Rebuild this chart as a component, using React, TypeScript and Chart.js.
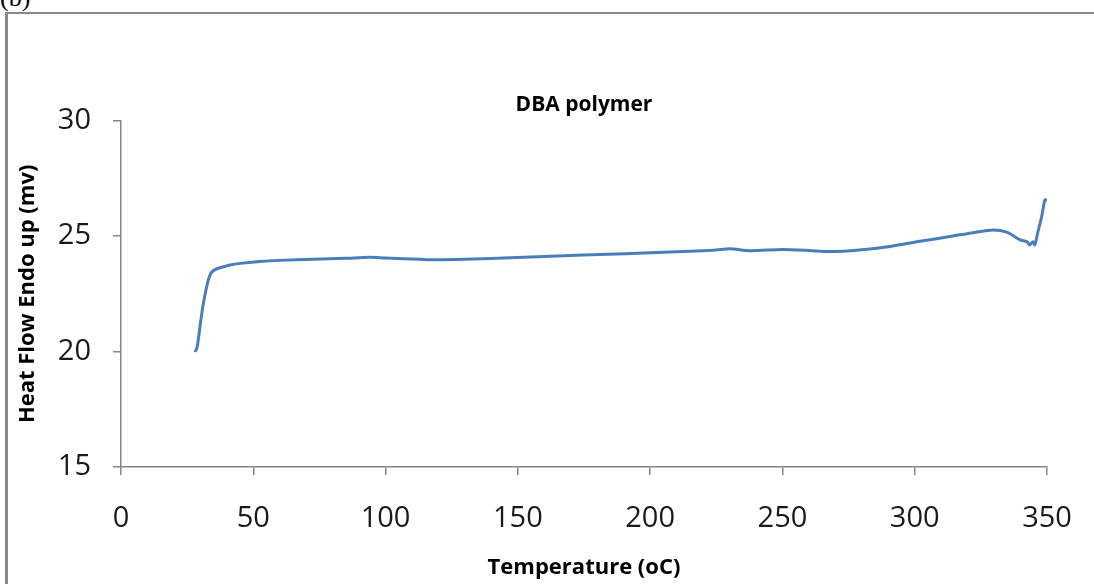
import React, { useEffect, useRef } from "react";
import { Chart, registerables } from "chart.js";

Chart.register(...registerables);

const temperature = [
  28.0, 28.8, 30.0, 31.0, 32.0, 33.0, 34.0, 35.5, 38, 41.2, 45, 52.5, 60, 72.6, 85, 94,
  100, 113, 118, 130, 149.6, 160, 174.6, 181, 200, 215, 225, 230, 237.7, 250, 260, 268,
  279, 290.6, 302, 313.3, 322, 329.6, 334.8, 339.8, 342.4, 343.5, 344.7, 345.4, 346.6,
  348, 349.2, 350,
];
const heatFlow = [
  19.98, 20.2, 21.2, 22.0, 22.6, 23.1, 23.4, 23.55, 23.65, 23.75, 23.82, 23.9, 23.95, 24.0,
  24.04, 24.08, 24.05, 24.0, 23.98, 24.0, 24.07, 24.12, 24.18, 24.2, 24.28, 24.35, 24.4,
  24.45, 24.37, 24.42, 24.38, 24.33, 24.4, 24.55, 24.78, 24.98, 25.15, 25.27, 25.17, 24.84,
  24.76, 24.62, 24.76, 24.62, 25.2, 25.85, 26.57, 26.57,
];
const xTicks = [0, 50, 100, 150, 200, 250, 300, 350];
const yTicks = [15, 20, 25, 30];

const chartTitle = "DBA polymer";
const xTitle = "Temperature (oC)";
const yTitle = "Heat Flow Endo up (mv)";

const FONT = "'Open Sans', 'Noto Sans', sans-serif";
const AXIS_GRAY = "#868686";

export default function App() {
  const ref = useRef<HTMLCanvasElement | null>(null);

  useEffect(() => {
    if (!ref.current) return;
    const points = temperature.map((t, i) => ({ x: t, y: heatFlow[i] }));
    const chart = new Chart(ref.current, {
      type: "line",
      data: {
        datasets: [
          {
            data: points,
            borderColor: "#4a7ebb",
            borderWidth: 3,
            pointRadius: 0,
            tension: 0.25,
            fill: false,
          },
        ],
      },
      options: {
        animation: false,
        responsive: false,
        events: [],
        layout: { padding: { top: 0, right: 47, left: 0, bottom: 0 } },
        plugins: {
          legend: { display: false },
          tooltip: { enabled: false },
          title: {
            display: true,
            text: chartTitle,
            fullSize: false,
            color: "#000",
            font: { family: FONT, size: 21, weight: "bold" },
            padding: { top: 92, bottom: 3.5 },
          },
        },
        scales: {
          x: {
            type: "linear",
            min: xTicks[0],
            max: xTicks[xTicks.length - 1],
            afterBuildTicks: (s: any) => {
              s.ticks = xTicks.map((v) => ({ value: v }));
            },
            afterFit: (s: any) => {
              s.height = 117;
              s.paddingLeft = 0;
              s.paddingRight = 0;
            },
            grid: {
              display: true,
              drawOnChartArea: false,
              drawTicks: true,
              tickLength: 8,
              color: AXIS_GRAY,
              lineWidth: 1.5,
            },
            border: { display: true, color: AXIS_GRAY, width: 1.5 },
            ticks: {
              color: "#1a1a1a",
              font: { family: FONT, size: 29 },
              padding: 26,
              maxRotation: 0,
              autoSkip: false,
            },
            title: {
              display: true,
              text: xTitle,
              color: "#000",
              font: { family: FONT, size: 22, weight: "bold" },
              padding: { top: 3, bottom: 3 },
            },
          },
          y: {
            type: "linear",
            min: yTicks[0],
            max: yTicks[yTicks.length - 1],
            afterBuildTicks: (s: any) => {
              s.ticks = yTicks.map((v) => ({ value: v }));
            },
            afterFit: (s: any) => {
              s.width = 121;
            },
            grid: {
              display: true,
              drawOnChartArea: false,
              drawTicks: true,
              tickLength: 8,
              color: AXIS_GRAY,
              lineWidth: 1.5,
            },
            border: { display: true, color: AXIS_GRAY, width: 1.5 },
            ticks: {
              color: "#1a1a1a",
              font: { family: FONT, size: 29 },
              padding: 22,
            },
            title: {
              display: true,
              text: yTitle,
              color: "#000",
              font: { family: FONT, size: 22, weight: "bold" },
              padding: { top: 15, bottom: 15 },
            },
          },
        },
      },
    });
    return () => chart.destroy();
  }, []);

  return (
    <div
      style={{
        position: "fixed",
        left: 0,
        top: 0,
        width: 1094,
        height: 584,
        background: "#fff",
        overflow: "hidden",
      }}
    >
      <div
        style={{
          position: "absolute",
          left: 0,
          top: -17,
          fontFamily: "'Liberation Serif', serif",
          fontSize: 26,
          color: "#000",
        }}
      >
        (b)
      </div>
      <div
        style={{
          position: "absolute",
          left: 5,
          top: 12,
          width: 1200,
          height: 700,
          borderTop: "2px solid #8a8a8a",
          borderLeft: "3px solid #8a8a8a",
        }}
      />
      <canvas
        ref={ref}
        width={1094}
        height={584}
        style={{ position: "absolute", left: 0, top: 0, width: 1094, height: 584 }}
      />
    </div>
  );
}
